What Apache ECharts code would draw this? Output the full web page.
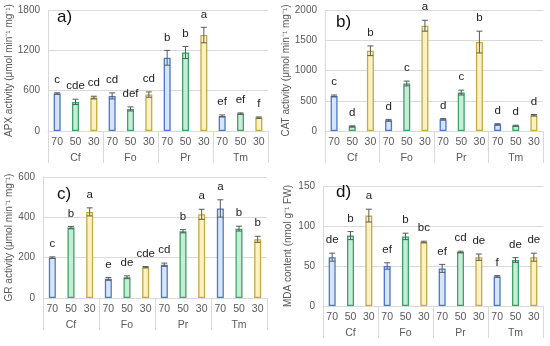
<!DOCTYPE html>
<html><head><meta charset="utf-8">
<script src="https://cdn.jsdelivr.net/npm/echarts@6/dist/echarts.min.js"></script>
<style>html,body{margin:0;padding:0;background:#fff}#c{width:550px;height:346px}</style>
</head><body><div id="c"></div>
<script>
const groups = ['Cf', 'Fo', 'Pr', 'Tm'];
const levels = ['70', '50', '30'];

const apxMean = [557, 433, 497, 522, 328, 542, 1089, 1168, 1427, 224, 259, 199];
const apxErr = [12, 40, 20, 45, 30, 40, 110, 90, 115, 15, 10, 10];
const apxLetters = ['c', 'cde', 'cd', 'cd', 'def', 'cd', 'b', 'b', 'a', 'ef', 'ef', 'f'];

const catMean = [580, 77, 1326, 177, 785, 1740, 193, 635, 1470, 110, 88, 260];
const catErr = [15, 8, 80, 15, 40, 90, 12, 40, 180, 10, 8, 12];
const catLetters = ['c', 'd', 'b', 'd', 'c', 'a', 'd', 'c', 'b', 'd', 'd', 'd'];

const grMean = [200, 349, 427, 95, 103, 153, 165, 331, 415, 444, 344, 291];
const grErr = [4, 6, 20, 7, 7, 3, 8, 8, 25, 43, 12, 15];
const grLetters = ['c', 'b', 'a', 'e', 'de', 'cde', 'cd', 'b', 'a', 'a', 'b', 'b'];

const mdaMean = [61, 88, 113, 50, 87, 80, 47, 67.5, 61, 37, 57.5, 61];
const mdaErr = [5, 5, 8, 4, 4, 1, 5, 1, 4, 1, 3, 5];
const mdaLetters = ['de', 'b', 'a', 'ef', 'b', 'bc', 'ef', 'cd', 'de', 'f', 'de', 'de'];

const yTitles = [
  'APX activity (μmol min⁻¹ mg⁻¹)',
  'CAT activity (μmol min⁻¹ mg⁻¹)',
  'GR activity (μmol min⁻¹ mg⁻¹)',
  'MDA content (nmol g⁻¹ FW)'
];
const panelNames = ['a)', 'b)', 'c)', 'd)'];

const fills = ['#d6e5f8', '#c8ecd6', '#fcf1c2'];
const borders = ['#4a78cc', '#3aa46a', '#c4ab44'];
const txt = '#595959';
const gridCol = '#d9d9d9';

const cats = [];
groups.forEach(g => levels.forEach(l => cats.push(l)));

const panels = [
  {mean: apxMean, err: apxErr, let: apxLetters, max: 1800, step: 600, grid: {left: 48, right: 282, top: 10, bottom: 215}, name: 32},
  {mean: catMean, err: catErr, let: catLetters, max: 2000, step: 500, grid: {left: 325, right: 7, top: 10, bottom: 215}, name: 32},
  {mean: grMean, err: grErr, let: grLetters, max: 600, step: 200, grid: {left: 43, right: 283, top: 177, bottom: 48}, name: 27},
  {mean: mdaMean, err: mdaErr, let: mdaLetters, max: 150, step: 50, grid: {left: 323, right: 7, top: 186, bottom: 40}, name: 30}
];

const option = {
  animation: false,
  textStyle: {fontFamily: 'Liberation Sans, Arial, sans-serif'},
  title: [], grid: [], xAxis: [], yAxis: [], series: []
};
const titlePos = [[52, 4], [331, 9], [52, 181], [331, 179]];

panels.forEach((p, i) => {
  option.grid.push(Object.assign({containLabel: false}, p.grid));
  option.title.push({text: panelNames[i], left: titlePos[i][0], top: titlePos[i][1],
    textStyle: {fontSize: 17, fontWeight: 'normal', color: '#111', fontFamily: 'Liberation Sans, Arial, sans-serif'}});
  option.xAxis.push({
    type: 'category', gridIndex: i, data: cats,
    axisTick: {show: false},
    axisLine: {show: true, lineStyle: {color: gridCol}},
    axisLabel: {interval: 0, margin: 6, color: txt, fontSize: 10.5}
  });
  option.xAxis.push({
    type: 'category', gridIndex: i, data: groups, position: 'bottom',
    axisLine: {show: false},
    axisTick: {show: true, length: 32, interval: 0, lineStyle: {color: gridCol}},
    axisLabel: {interval: 0, margin: 22, color: txt, fontSize: 10.5}
  });
  option.yAxis.push({
    type: 'value', gridIndex: i, min: 0, max: p.max, interval: p.step,
    name: yTitles[i], nameLocation: 'middle', nameGap: p.name,
    nameTextStyle: {fontSize: 10, color: txt},
    axisLine: {show: true, lineStyle: {color: gridCol}},
    axisTick: {show: false},
    axisLabel: {margin: 8, color: txt, fontSize: 10, formatter: v => String(v)},
    splitLine: {show: true, lineStyle: {color: gridCol}}
  });
  option.series.push({
    type: 'bar', xAxisIndex: 2 * i, yAxisIndex: i, barWidth: 7,
    data: p.mean.map((v, k) => ({value: v, itemStyle: {color: fills[k % 3], borderColor: borders[k % 3], borderWidth: 1.3}}))
  });
  option.series.push({
    type: 'custom', xAxisIndex: 2 * i, yAxisIndex: i, z: 5,
    data: p.mean.map((v, k) => [k, v, p.err[k], p.let[k]]),
    renderItem: function (params, api) {
      const x = api.value(0), m = api.value(1), e = api.value(2);
      const top = api.coord([x, m + e]);
      const bot = api.coord([x, m - e]);
      const cw = 3;
      const s = {stroke: '#5a5a5a', lineWidth: 1};
      return {type: 'group', children: [
        {type: 'line', shape: {x1: top[0], y1: top[1], x2: bot[0], y2: bot[1]}, style: s},
        {type: 'line', shape: {x1: top[0] - cw, y1: top[1], x2: top[0] + cw, y2: top[1]}, style: s},
        {type: 'line', shape: {x1: bot[0] - cw, y1: bot[1], x2: bot[0] + cw, y2: bot[1]}, style: s},
        {type: 'text', x: top[0], y: top[1] - 7, style: {text: p.let[params.dataIndex], align: 'center', verticalAlign: 'bottom', fontSize: 11.5, fill: '#222', fontFamily: 'Liberation Sans, Arial, sans-serif'}}
      ]};
    }
  });
});

const chart = echarts.init(document.getElementById('c'), null, {renderer: 'canvas'});
chart.setOption(option);
</script>
</body></html>
